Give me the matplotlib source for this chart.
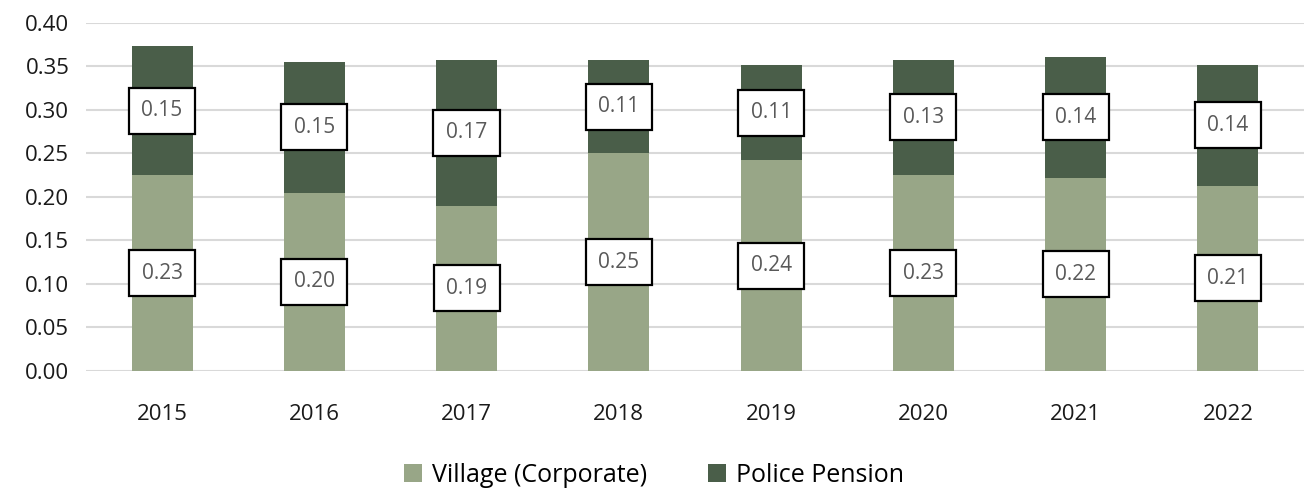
import matplotlib
matplotlib.use("Agg")
import matplotlib.pyplot as plt
import numpy as np

years = ["2015", "2016", "2017", "2018", "2019", "2020", "2021", "2022"]
village = [0.225, 0.205, 0.190, 0.250, 0.242, 0.225, 0.222, 0.213]
police = [0.148, 0.150, 0.168, 0.108, 0.110, 0.133, 0.139, 0.139]
village_labels = ["0.23", "0.20", "0.19", "0.25", "0.24", "0.23", "0.22", "0.21"]
police_labels = ["0.15", "0.15", "0.17", "0.11", "0.11", "0.13", "0.14", "0.14"]
yticks = [0.00, 0.05, 0.10, 0.15, 0.20, 0.25, 0.30, 0.35, 0.40]

plt.rcParams['font.family'] = ['Open Sans', 'DejaVu Sans']

c_village = "#98a687"
c_police = "#4a5e49"

fig = plt.figure(figsize=(13.08, 4.91), dpi=100)
ax = fig.add_axes([0.0657, 0.2444, 0.9313, 0.7088])

x = np.arange(len(years))
b1 = ax.bar(x, village, width=0.4, color=c_village, label="Village (Corporate)", zorder=3)
b2 = ax.bar(x, police, width=0.4, bottom=village, color=c_police, label="Police Pension", zorder=3)

bbox = dict(boxstyle="square,pad=0.6", facecolor="white", edgecolor="black", linewidth=1.6)
for i in range(len(years)):
    ax.text(x[i], village[i] / 2, village_labels[i], ha="center", va="center",
            fontsize=15, color="#595959", bbox=bbox, zorder=5)
    ax.text(x[i], village[i] + police[i] / 2, police_labels[i], ha="center", va="center",
            fontsize=15, color="#595959", bbox=bbox, zorder=5)

ax.set_xlim(-0.5, len(years) - 0.5)
ax.set_ylim(0, 0.40)
ax.set_yticks(yticks)
ax.set_yticklabels([f"{v:.2f}" for v in yticks])
ax.set_xticks(x)
ax.set_xticklabels(years)
ax.tick_params(axis="both", length=0, labelsize=16, colors="#1a1a1a")
ax.tick_params(axis="x", pad=24)
ax.tick_params(axis="y", pad=12)
ax.yaxis.grid(True, color="#d9d9d9", linewidth=1.5, zorder=0)
for s in ax.spines.values():
    s.set_visible(False)

fig.legend(handles=[b1, b2], loc="center", bbox_to_anchor=(0.5, 0.032), ncol=2,
           frameon=False, fontsize=18, handlelength=0.75, handleheight=0.75,
           handletextpad=0.4, columnspacing=2.4)

fig.savefig("out.png", dpi=100)
